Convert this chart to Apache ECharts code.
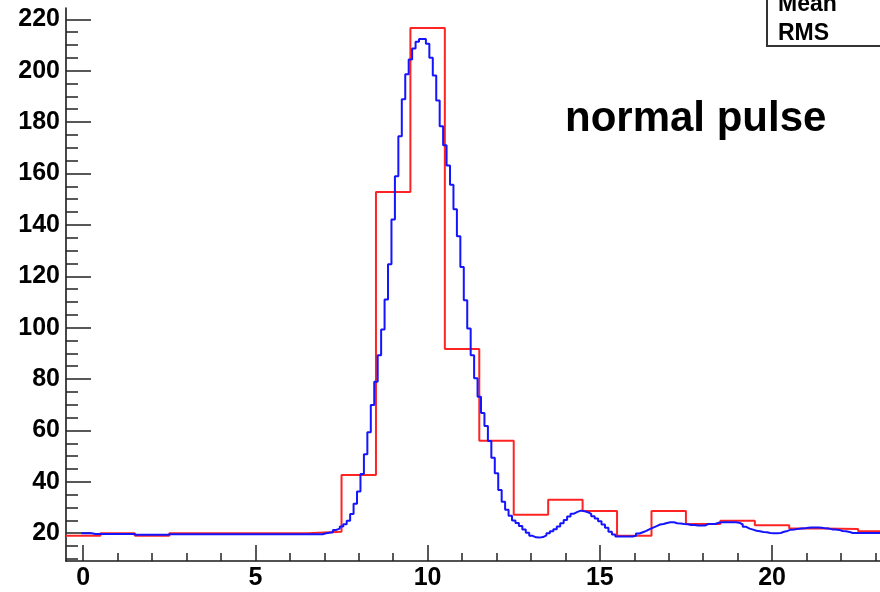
<!DOCTYPE html>
<html>
<head>
<meta charset="utf-8">
<script src="https://cdn.jsdelivr.net/npm/echarts@6/dist/echarts.min.js"></script>
<style>html,body{margin:0;padding:0;background:#fff;}#c{width:880px;height:592px;}</style>
</head>
<body>
<div id="c"></div>
<script>
// fine-binned pulse (blue), bin centres start at blueStart, width blueWidth
var blueStart = 0.0;
var blueWidth = 0.1;
var blueValues = [
  20.0, 20.0, 20.0, 19.7, 19.7, 19.7, 19.7, 19.7, 19.7, 19.7,
  19.7, 19.7, 19.7, 19.7, 19.7, 19.4, 19.4, 19.4, 19.4, 19.4,
  19.4, 19.4, 19.4, 19.4, 19.4, 19.6, 19.6, 19.6, 19.6, 19.6,
  19.6, 19.6, 19.6, 19.6, 19.6, 19.6, 19.6, 19.6, 19.6, 19.6,
  19.6, 19.6, 19.6, 19.6, 19.6, 19.6, 19.6, 19.6, 19.6, 19.6,
  19.6, 19.6, 19.6, 19.6, 19.6, 19.6, 19.6, 19.6, 19.6, 19.6,
  19.6, 19.6, 19.6, 19.6, 19.6, 19.6, 19.6, 19.6, 19.6, 19.6,
  20.0, 20.2, 20.4, 21.3, 21.8, 22.6, 23.5, 24.9, 27.5, 31.5,
  36.2, 43.1, 50.7, 59.3, 69.9, 79.0, 89.3, 99.3, 111.0, 124.7,
  142.1, 158.9, 174.5, 188.9, 198.6, 204.4, 208.6, 211.3, 212.3, 212.3,
  210.5, 205.0, 198.1, 188.4, 178.4, 171.0, 163.1, 155.6, 146.1, 135.6,
  123.6, 110.7, 99.7, 89.3, 80.3, 73.1, 66.8, 61.7, 55.9, 49.4,
  43.3, 36.8, 32.3, 29.1, 26.8, 25.0, 24.0, 22.8, 21.5, 20.2,
  19.0, 18.4, 18.3, 18.5, 19.2, 20.0, 20.8, 21.6, 22.6, 23.9,
  25.2, 26.5, 27.6, 28.3, 28.8, 28.6, 28.2, 27.5, 26.6, 25.7,
  24.7, 23.4, 22.1, 20.6, 19.5, 18.7, 18.7, 18.7, 18.7, 18.7,
  19.0, 19.9, 20.4, 20.9, 21.6, 22.2, 22.8, 23.4, 23.6, 24.0,
  24.3, 24.3, 23.9, 23.8, 23.6, 23.5, 23.2, 23.2, 23.0, 23.0,
  23.0, 23.6, 23.6, 23.6, 24.1, 24.3, 24.3, 24.3, 24.3, 24.3,
  24.1, 23.4, 22.5, 21.8, 21.4, 21.0, 20.8, 20.5, 20.4, 20.1,
  20.0, 20.0, 20.1, 20.6, 20.9, 21.4, 21.5, 21.7, 21.8, 21.9,
  22.1, 22.2, 22.2, 22.2, 22.1, 21.9, 21.8, 21.5, 21.5, 21.3,
  20.9, 20.8, 20.5, 20.1, 20.1, 20.1, 20.1, 20.1, 20.1, 20.1,
  20.1, 20.1
];
// coarse-binned pulse (red), bin centres start at redStart, width redWidth
var redStart = 0;
var redWidth = 1;
var redValues = [
  19.0, 20.0, 19.0, 20.0, 20.0, 20.0, 20.0, 20.6, 42.7, 152.8,
  216.6, 91.7, 56.0, 27.2, 33.0, 28.7, 19.0, 28.7, 23.6, 24.9,
  23.1, 21.8, 21.7, 20.8
];
var xTicks = [0, 5, 10, 15, 20];
var yTicks = [20, 40, 60, 80, 100, 120, 140, 160, 180, 200, 220];
var xMin = -0.5, xMax = 23.135;
var yMin = 9.2, yMax = 224.4;
var labelText = 'normal pulse';
var statLines = ['Mean', 'RMS'];

function histSteps(start, width, vals) {
  var pts = [];
  for (var i = 0; i < vals.length; i++) {
    pts.push([start + i * width - width / 2, vals[i]]);
  }
  pts.push([start + (vals.length - 1) * width + width / 2, vals[vals.length - 1]]);
  return pts;
}

var font = 'Liberation Sans, Arial, sans-serif';
var chart = echarts.init(document.getElementById('c'), null, {renderer: 'canvas'});
chart.setOption({
  backgroundColor: '#ffffff',
  animation: false,
  grid: {left: 66, top: 8, right: 0, bottom: 31, containLabel: false},
  xAxis: {
    type: 'value', min: xMin, max: xMax, splitNumber: 5,
    axisLine: {show: true, onZero: false, lineStyle: {color: '#1a1a1a', width: 1.6}},
    axisTick: {show: true, inside: true, length: 16, customValues: xTicks,
      lineStyle: {color: '#222', width: 1.5}},
    minorTick: {show: true, splitNumber: 5, length: 8, lineStyle: {color: '#222', width: 1.5}},
    splitLine: {show: false},
    axisLabel: {show: true, customValues: xTicks, margin: 5,
      fontSize: 25, fontWeight: 'bold', fontFamily: font, color: '#000'}
  },
  yAxis: {
    type: 'value', min: yMin, max: yMax, splitNumber: 11,
    axisLine: {show: true, onZero: false, lineStyle: {color: '#1a1a1a', width: 1.6}},
    axisTick: {show: true, inside: true, length: 25, customValues: yTicks,
      lineStyle: {color: '#222', width: 1.5}},
    minorTick: {show: true, splitNumber: 4, length: 12, lineStyle: {color: '#222', width: 1.5}},
    splitLine: {show: false},
    axisLabel: {show: true, customValues: yTicks, margin: 6,
      fontSize: 25, fontWeight: 'bold', fontFamily: font, color: '#000'}
  },
  series: [
    {type: 'line', step: 'end', data: histSteps(redStart, redWidth, redValues),
     showSymbol: false, symbol: 'none', clip: true,
     lineStyle: {color: '#ff2424', width: 2}, z: 2},
    {type: 'line', step: 'end', data: histSteps(blueStart, blueWidth, blueValues),
     showSymbol: false, symbol: 'none', clip: true,
     lineStyle: {color: '#1414ff', width: 2}, z: 3}
  ],
  graphic: [
    {type: 'rect', shape: {x: 767, y: -20, width: 200, height: 66},
     style: {fill: '#fff', stroke: '#333', lineWidth: 2}, z: 10},
    {type: 'text', x: 778, y: 5, style: {text: statLines[0], font: 'bold 23px ' + font,
      fill: '#000', textVerticalAlign: 'middle'}, z: 11},
    {type: 'text', x: 778, y: 33.7, style: {text: statLines[1], font: 'bold 23px ' + font,
      fill: '#000', textVerticalAlign: 'middle'}, z: 11},
    {type: 'text', x: 565, y: 119, style: {text: labelText, font: 'bold 42px ' + font,
      fill: '#000', textVerticalAlign: 'middle'}, z: 11}
  ]
});
</script>
</body>
</html>
